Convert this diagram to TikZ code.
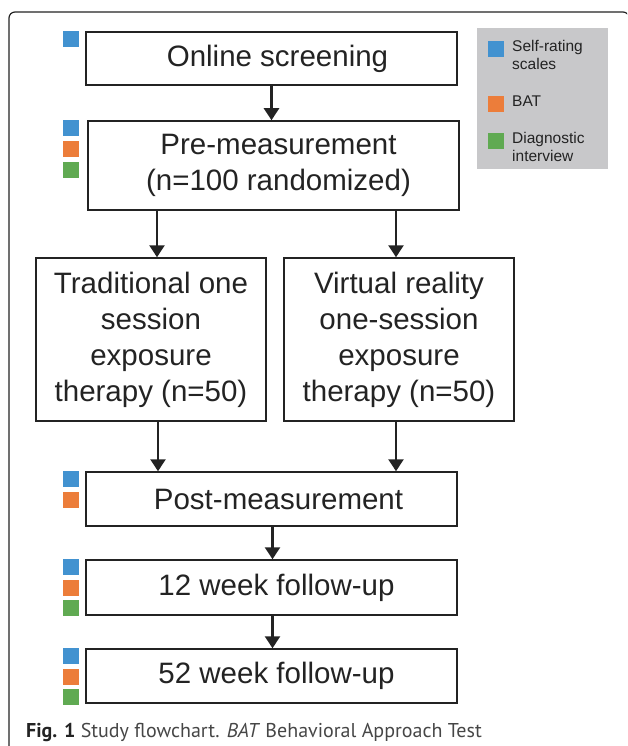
\documentclass[tikz,border=0pt]{standalone}
\usepackage{fontspec}
\setmainfont{Liberation Sans}
\newfontfamily\capfont{PT Sans}
\usetikzlibrary{positioning,arrows.meta}
\definecolor{selfblue}{RGB}{66,146,208}
\definecolor{batorange}{RGB}{236,125,58}
\definecolor{diaggreen}{RGB}{96,170,82}
\definecolor{keygray}{RGB}{200,200,202}
\definecolor{inkgray}{RGB}{35,35,35}
\definecolor{capgray}{RGB}{70,70,70}
\begin{document}
\begin{tikzpicture}[x=1pt, y=-1pt,
    stage/.style={draw=inkgray, line width=1.5pt, text=inkgray, align=center, inner sep=0pt, font=\fontsize{29.5}{36}\selectfont},
    wide/.style={stage, minimum width=371pt},
    arm/.style={stage, minimum width=230pt, minimum height=163pt},
    chip/.style={fill=#1, minimum width=16pt, minimum height=16pt, inner sep=0pt},
    flow/.style={draw=inkgray, line width=2.6pt, -{Triangle[length=12pt,width=15pt]}},
    keytext/.style={anchor=north west, inner sep=0pt, align=left, text=inkgray, font=\fontsize{15.5}{18}\selectfont}]
    \useasboundingbox (0,0) rectangle (627,746);

    % Outer frame, cut at the right and bottom
    \begin{scope}
        \clip (0,0) rectangle (627,746);
        \draw[line width=1.2pt, draw=inkgray, rounded corners=6pt] (9,12) rectangle (629,770);
    \end{scope}

    % Stages
    \node[wide, minimum height=53pt] (online) at (271.5,58.5) {\hspace*{12pt}Online screening};
    \node[wide, minimum height=89pt] (pre) at (273.5,165.5) {\hspace*{10pt}Pre-measurement\\\hspace*{10pt}(n=100 randomized)};
    \node[arm] (trad) at (151,339.5) {Traditional one\\session\\exposure\\therapy (n=50)};
    \node[arm] (vr) at (399,339.5) {Virtual reality\\one-session\\exposure\\therapy (n=50)};
    \node[wide, minimum height=54pt] (post) at (271.5,499) {\hspace*{14pt}Post-measurement};
    \node[wide, minimum height=55pt] (wk12) at (271.5,587.5) {\hspace*{10pt}12 week follow-up};
    \node[wide, minimum height=54pt] (wk52) at (271.5,676) {\hspace*{10pt}52 week follow-up};

    % Arrows
    \draw[flow] (online.south) -- (online.south |- pre.north);
    \draw[flow] ([xshift=6pt]trad.north |- pre.south) -- ([xshift=6pt]trad.north);
    \draw[flow] ([xshift=-3pt]vr.north |- pre.south) -- ([xshift=-3pt]vr.north);
    \draw[flow] ([xshift=7pt]trad.south) -- ([xshift=7pt]trad.south |- post.north);
    \draw[flow] ([xshift=-3pt]vr.south) -- ([xshift=-3pt]vr.south |- post.north);
    \draw[flow] ([xshift=1pt]post.south) -- ([xshift=1pt]post.south |- wk12.north);
    \draw[flow] ([xshift=1pt]wk12.south) -- ([xshift=1pt]wk12.south |- wk52.north);

    % Measures per stage
    \node[chip=selfblue, anchor=north east] (online-s) at ([xshift=-6pt]online.north west) {};

    \node[chip=selfblue, anchor=north east] (pre-s) at ([xshift=-8pt]pre.north west) {};
    \node[chip=batorange, below=4.5pt of pre-s] (pre-b) {};
    \node[chip=diaggreen, below=4.5pt of pre-b] (pre-d) {};

    \node[chip=selfblue, anchor=north east] (post-s) at ([xshift=-6pt]post.north west) {};
    \node[chip=batorange, below=4.5pt of post-s] (post-b) {};

    \node[chip=selfblue, anchor=north east] (wk12-s) at ([xshift=-6pt]wk12.north west) {};
    \node[chip=batorange, below=4pt of wk12-s] (wk12-b) {};
    \node[chip=diaggreen, below=4pt of wk12-b] (wk12-d) {};

    \node[chip=selfblue, anchor=north east] (wk52-s) at ([xshift=-6pt]wk52.north west) {};
    \node[chip=batorange, below=4pt of wk52-s] (wk52-b) {};
    \node[chip=diaggreen, below=4pt of wk52-b] (wk52-d) {};

    % Legend
    \node[fill=keygray, minimum width=131pt, minimum height=141pt, inner sep=0pt] (key) at (542.5,98.5) {};
    \node[chip=selfblue, anchor=north west] (key-s) at (488,41) {};
    \node[keytext] (key-st) at (512,40) {Self-rating\\scales};
    \node[chip=batorange, anchor=north west] (key-b) at (488,96) {};
    \node[keytext] (key-bt) at (512,96) {BAT};
    \node[chip=diaggreen, anchor=north west] (key-d) at (488,133) {};
    \node[keytext] (key-dt) at (512,132) {Diagnostic\\interview};

    % Caption
    \node[anchor=base west, inner sep=0pt, text=capgray, font=\capfont\fontsize{20}{24}\selectfont] (caption) at (26,737)
        {{\color{inkgray}\bfseries Fig. 1} Study flowchart. \textit{BAT} Behavioral Approach Test};
\end{tikzpicture}
\end{document}
